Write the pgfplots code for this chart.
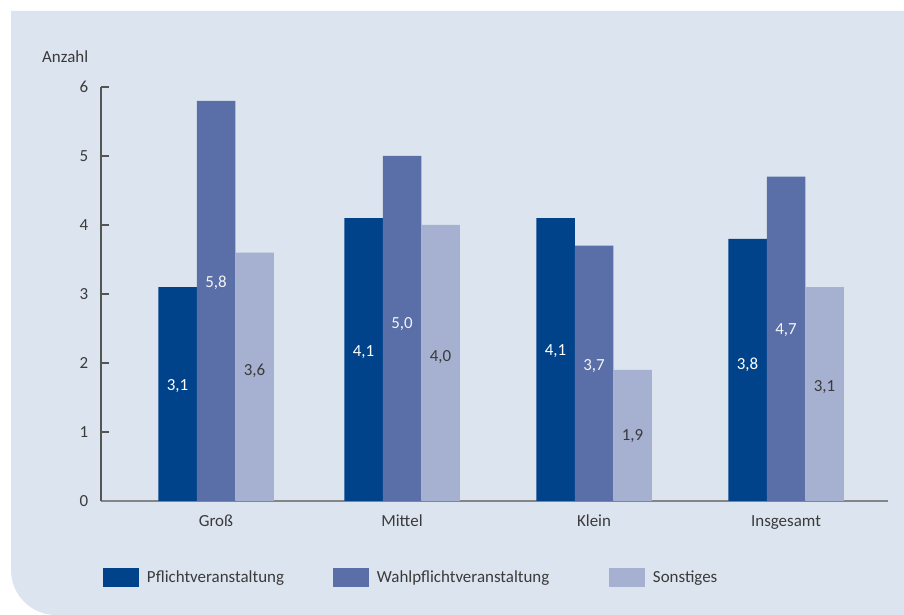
\documentclass[border=0pt]{standalone}
\usepackage{fontspec}
\setmainfont{Carlito}
\usepackage{pgfplots}
\pgfplotsset{compat=1.18}
\definecolor{bg}{HTML}{DCE5EF}
\definecolor{cdark}{HTML}{00438A}
\definecolor{cmed}{HTML}{5A6EA7}
\definecolor{clight}{HTML}{A6B0D1}
\definecolor{txt}{HTML}{3A3A3A}
\definecolor{axgray}{HTML}{858585}
\definecolor{ydark}{HTML}{555555}
\newcommand{\chartfont}{\fontsize{17}{19.5}\selectfont}
\pgfplotsset{
  mybar/.style={ybar, bar width=38.5bp, draw=none,
    legend image code/.code={\fill[##1] (0bp,-9.5bp) rectangle (36bp,9.5bp);}},
  mylab/.style={only marks, mark=none, forget plot, nodes near coords,
    point meta=explicit symbolic,
    every node near coord/.append style={anchor=center, font=\chartfont, text=#1}},
}
\begin{document}
\begin{tikzpicture}[x=1bp,y=1bp]
\fill[white] (0,0) rectangle (904,615);
\fill[bg] (904,604) -- (11,604) -- (11,45) arc[start angle=180, end angle=270, radius=45] -- (904,0) -- cycle;
\begin{axis}[
  at={(101bp,114bp)}, anchor=south west,
  scale only axis, width=787bp, height=414bp,
  xmin=101, xmax=888, ymin=0, ymax=6,
  /pgf/number format/assume math mode=true,
  axis x line*=bottom, axis y line*=left,
  x axis line style={draw=axgray, line width=1.8bp},
  y axis line style={draw=ydark, line width=1.1bp},
  ytick={0,1,2,3,4,5,6},
  xtick={216,402,594,786},
  xticklabels={Groß,Mittel,Klein,Insgesamt},
  tick align=inside, major tick length=8bp,
  ytick style={draw=ydark, line width=1.1bp},
  xtick style={draw=none},
  tick label style={font=\chartfont, text=txt},
  yticklabel style={anchor=east, inner sep=0pt, xshift=-12.5bp},
  xticklabel style={anchor=north, inner sep=0pt, yshift=-14bp},
  ylabel={Anzahl},
  ylabel style={rotate=-90, at={(axis description cs:-0.075,1.0725)}, anchor=west, inner sep=0pt, font=\chartfont, text=txt},
  clip=false,
  legend columns=3,
  legend style={at={(axis description cs:0.0025,-0.1836)}, anchor=west,
    draw=none, fill=none, inner sep=0pt, outer sep=0pt,
    nodes={inner sep=0pt, text=txt, font=\chartfont},
    /tikz/every odd column/.style={column sep=8bp}},
  legend cell align=left,
]
\addplot[mybar, fill=cdark, bar shift=-38.5bp] coordinates {(216,3.1) (402,4.1) (594,4.1) (786,3.8)};
\addplot[mybar, fill=cmed, bar shift=0bp] coordinates {(216,5.8) (402,5.0) (594,3.7) (786,4.7)};
\addplot[mybar, fill=clight, bar shift=38.5bp] coordinates {(216,3.6) (402,4.0) (594,1.9) (786,3.1)};
\addlegendentry{\makebox[186bp][l]{Pflichtveranstaltung}}
\addlegendentry{\makebox[232bp][l]{Wahlpflichtveranstaltung}}
\addlegendentry{Sonstiges}
\addplot[mylab=white] table[meta=l] {
x y l
177.5 1.66 3,1
363.5 2.16 4,1
555.5 2.17 4,1
747.5 1.97 3,8
};
\addplot[mylab=white!92!cmed] table[meta=l] {
x y l
216 3.16 5,8
402 2.56 5,0
594 1.95 3,7
786 2.47 4,7
};
\addplot[mylab=txt] table[meta=l] {
x y l
254.5 1.88 3,6
440.5 2.09 4,0
632.5 0.94 1,9
824.5 1.65 3,1
};
\end{axis}
\end{tikzpicture}
\end{document}
